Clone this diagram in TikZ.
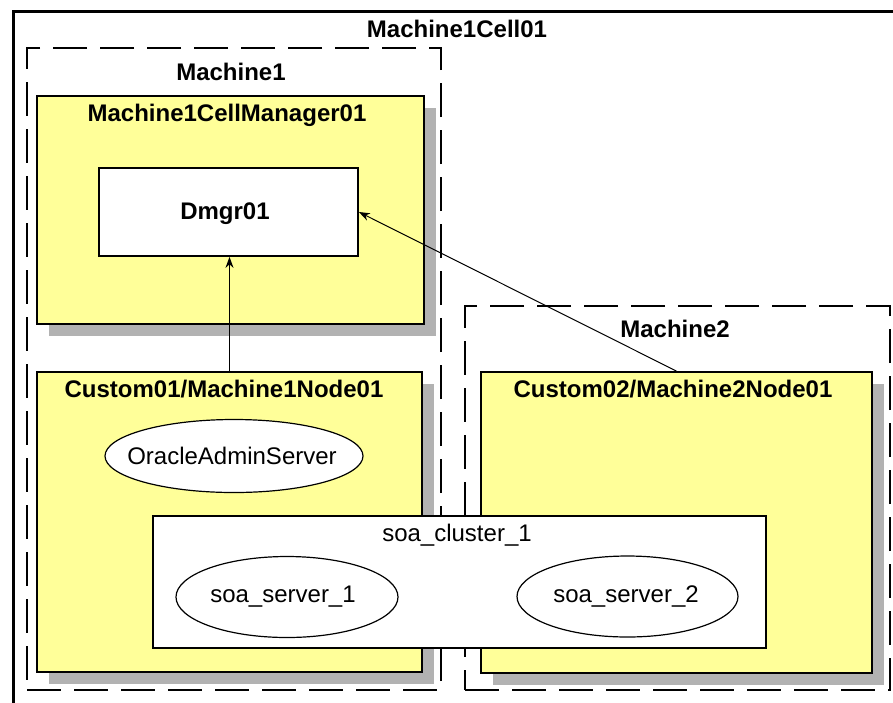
\documentclass[tikz,border=0pt]{standalone}
\usepackage{fontspec}
\setmainfont{Liberation Sans}
\usepackage{tikz}
\usetikzlibrary{arrows.meta,shapes.geometric,shadows}
\definecolor{boxyellow}{RGB}{255,255,153}
\definecolor{shadowgray}{RGB}{178,178,178}

\begin{document}
\begin{tikzpicture}[x=1pt,y=-1pt,
	lbl/.style={font=\fontsize{24}{28}\selectfont\bfseries, anchor=base, inner sep=0pt},
	txt/.style={font=\fontsize{24}{28}\selectfont, anchor=base, inner sep=0pt},
	machbox/.style={draw, line width=1.8pt, dash pattern={on 34pt off 13pt}, inner sep=0pt},
	nodebox/.style={draw, line width=1.8pt, fill=boxyellow, inner sep=0pt,
		drop shadow={shadow xshift=12pt, shadow yshift=-12pt, fill=shadowgray, opacity=1}},
	whitebox/.style={draw, line width=1.8pt, fill=white, inner sep=0pt},
	srv/.style={draw, ellipse, line width=1.2pt, fill=white, inner sep=0pt},
	link/.style={-{Stealth[length=11pt,width=8pt]}, line width=1pt}]
	\useasboundingbox (0,0) rectangle (893,702);
	
	%cell (runs off the page at right and bottom)
	\node (CELL) [draw, line width=3pt, minimum width=891.5pt, minimum height=704pt, inner sep=0pt] at (459.25,363) {};
	\node (tCELL) [lbl] at (457,37) {Machine1Cell01};
	
	%machines
	\node (MA) [machbox, minimum width=414pt, minimum height=642pt] at (234,369) {};
	\node (tMA) [lbl] at (231,80) {Machine1};
	\node (MB) [machbox, minimum width=425pt, minimum height=384pt] at (677.5,498) {};
	\node (tMB) [lbl] at (675,337) {Machine2};
	
	%cell manager
	\node (CM) [nodebox, minimum width=387pt, minimum height=228pt] at (230.5,210) {};
	\node (tCM) [lbl] at (227,121) {Machine1CellManager01};
	\node (DM) [whitebox, minimum width=259pt, minimum height=88pt] at (228.5,212) {};
	\node (tDM) [lbl] at (225,219) {Dmgr01};
	
	%nodes
	\node (NA) [nodebox, minimum width=385pt, minimum height=300pt] at (229.5,522) {};
	\node (tNA) [lbl] at (224,397) {Custom01/Machine1Node01};
	\node (NB) [nodebox, minimum width=391pt, minimum height=301pt] at (676.5,522.5) {};
	\node (tNB) [lbl] at (673,397) {Custom02/Machine2Node01};
	
	\node (AS) [srv, minimum width=258pt, minimum height=73pt] at (234,456) {};
	\node (tAS) [txt] at (232,464) {OracleAdminServer};
	
	%cluster across both nodes
	\node (CL) [whitebox, minimum width=613pt, minimum height=132pt] at (459.5,582) {};
	\node (tCL) [txt] at (457,541) {soa\_cluster\_1};
	\node (SA) [srv, minimum width=222pt, minimum height=81pt] at (287,597) {};
	\node (tSA) [txt] at (283,602) {soa\_server\_1};
	\node (SB) [srv, minimum width=221pt, minimum height=81pt] at (627.5,596.5) {};
	\node (tSB) [txt] at (626,602) {soa\_server\_2};
	
	\draw[link] (NA.north) -- (NA.north |- DM.south);
	\draw[link] (NB.north) -- (DM.east);
\end{tikzpicture}
\end{document}
